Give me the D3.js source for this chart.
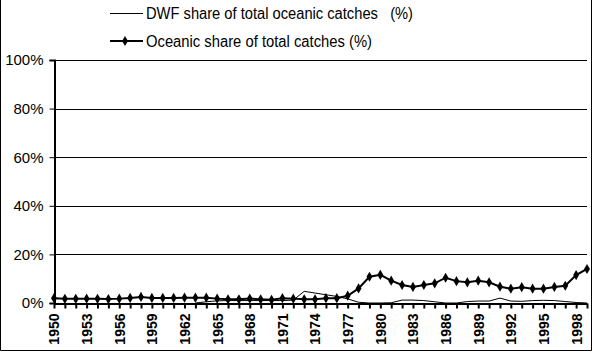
<!DOCTYPE html>
<html>
<head>
<meta charset="utf-8">
<script src="https://cdn.jsdelivr.net/npm/d3@7"></script>
<style>
  body { margin: 0; background: #fff; }
  svg { display: block; font-family: 'Liberation Sans', Arial, sans-serif; }
</style>
</head>
<body>
<div id="chart"></div>
<script>
// data (percent)
var years = d3.range(1950, 2000)
var oceanicShare = [2.0, 1.7, 1.7, 1.8, 1.7, 1.6, 1.8, 2.1, 2.5, 2.1,
  2.1, 2.1, 2.2, 2.2, 2.2, 1.8, 1.5, 1.5, 1.8, 1.5,
  1.3, 2.0, 1.8, 1.5, 1.5, 2.0, 2.0, 3.0, 6.0, 10.8,
  11.6, 9.2, 7.4, 6.6, 7.4, 8.1, 10.4, 9.0, 8.5, 9.2,
  8.5, 6.7, 5.9, 6.5, 5.9, 5.9, 6.6, 7.1, 11.5, 14.0]
var dwfShare = [null, null, null, null, null, null, null, null, null, null,
  null, null, null, 0, 0.5, 0.9, 1.0, 1.0, 1.0, 1.0,
  1.0, 1.0, 1.2, 4.8, 4.1, 3.4, 2.7, 1.7, 0.3, 0,
  0, 0.1, 1.2, 1.2, 1.0, 0.5, 0, 0, 0.6, 0.8,
  0.8, 2.0, 0.8, 0.7, 1.0, 1.1, 1.0, 0.6, 0.2, 0]
var yTicks = [0, 20, 40, 60, 80, 100]
var labelYears = d3.range(1950, 2000, 3)

var W = 592, H = 351
var margin = { top: 60, right: 5, bottom: 48, left: 54 }
var width = W - margin.left - margin.right
var height = H - margin.top - margin.bottom

var svg = d3.select('#chart').append('svg')
  .attr('width', W)
  .attr('height', H)

// outer frame (left, right, bottom)
svg.append('path')
  .attr('d', 'M0.5,0 V' + (H - 0.5) + ' H' + (W - 0.5) + ' V0')
  .attr('fill', 'none')
  .attr('stroke', '#000')

var g = svg.append('g')
  .attr('transform', 'translate(' + margin.left + ',' + margin.top + ')')

var x = d3.scalePoint().domain(years).range([0, width])
var y = d3.scaleLinear().domain([0, 100]).range([height, 0])

// gridlines
g.append('g').selectAll('line')
  .data(yTicks.filter(d => d > 0))
  .enter().append('line')
  .attr('x1', 0).attr('x2', width)
  .attr('y1', d => Math.round(y(d)) + 0.5)
  .attr('y2', d => Math.round(y(d)) + 0.5)
  .attr('stroke', '#000')

// y axis
var yAxis = g.append('g')
  .attr('transform', 'translate(0.5,0)')
  .call(d3.axisLeft(y).tickValues(yTicks).tickSize(5).tickFormat(d => d + '%'))
yAxis.select('.domain').attr('stroke', '#000').attr('stroke-width', 2)
yAxis.selectAll('text').attr('font-size', 15).attr('font-family', "'Liberation Sans', Arial, sans-serif").attr('dx', -3)

// x axis
var xAxis = g.append('g')
  .attr('transform', 'translate(0,' + (height + 0.5) + ')')
  .call(d3.axisBottom(x).tickSize(5).tickSizeOuter(0)
    .tickFormat(d => labelYears.includes(d) ? d : ''))
xAxis.select('.domain').attr('stroke', '#000').attr('stroke-width', 2)
xAxis.selectAll('.tick line').attr('stroke-width', 2)
xAxis.selectAll('text')
  .attr('font-size', 14)
  .attr('font-weight', 'bold')
  .attr('font-family', "'Liberation Sans', Arial, sans-serif")
  .attr('transform', 'rotate(-90)')
  .attr('text-anchor', 'end')
  .attr('x', -10)
  .attr('y', 0)
  .attr('dy', '0.35em')

// DWF line (thin)
var dwfLine = d3.line()
  .defined(d => d[1] !== null)
  .x(d => x(d[0]))
  .y(d => y(d[1]))
g.append('path')
  .datum(years.map((yr, i) => [yr, dwfShare[i]]))
  .attr('d', dwfLine)
  .attr('fill', 'none')
  .attr('stroke', '#000')
  .attr('stroke-width', 1)

// Oceanic line (thick, diamond markers)
var ocLine = d3.line()
  .x(d => x(d[0]))
  .y(d => y(d[1]))
var ocData = years.map((yr, i) => [yr, oceanicShare[i]])
g.append('path')
  .datum(ocData)
  .attr('d', ocLine)
  .attr('fill', 'none')
  .attr('stroke', '#000')
  .attr('stroke-width', 2)
g.append('g').selectAll('path')
  .data(ocData)
  .enter().append('path')
  .attr('d', d3.symbol().type(d3.symbolDiamond).size(30))
  .attr('transform', d => 'translate(' + x(d[0]) + ',' + y(d[1]) + ')')
  .attr('fill', '#000')

// legend
var legend = svg.append('g')
legend.append('line')
  .attr('x1', 110).attr('x2', 143).attr('y1', 13.5).attr('y2', 13.5)
  .attr('stroke', '#000')
legend.append('text')
  .attr('x', 146).attr('y', 19)
  .attr('font-size', 16)
  .attr('textLength', 267)
  .attr('lengthAdjust', 'spacingAndGlyphs')
  .text('DWF share of total oceanic catches\u00a0\u00a0 (%)')
legend.append('line')
  .attr('x1', 110).attr('x2', 143).attr('y1', 41).attr('y2', 41)
  .attr('stroke', '#000').attr('stroke-width', 2)
legend.append('path')
  .attr('d', d3.symbol().type(d3.symbolDiamond).size(30))
  .attr('transform', 'translate(125,41)')
legend.append('text')
  .attr('x', 146).attr('y', 47)
  .attr('font-size', 16)
  .attr('textLength', 226)
  .attr('lengthAdjust', 'spacingAndGlyphs')
  .text('Oceanic share of total catches (%)')
</script>
</body>
</html>
